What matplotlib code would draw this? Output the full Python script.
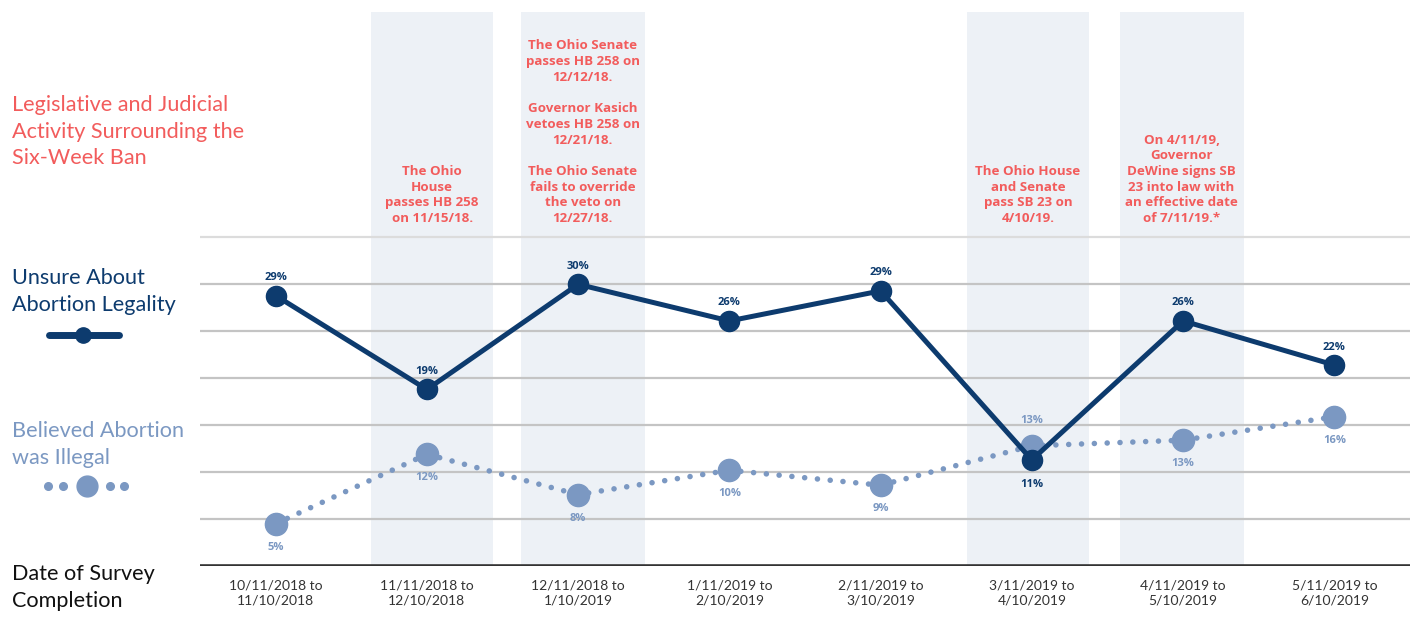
import matplotlib.pyplot as plt

# survey periods (x axis)
periods = [
    "10/11/2018 to\n11/10/2018",
    "11/11/2018 to\n12/10/2018",
    "12/11/2018 to\n1/10/2019",
    "1/11/2019 to\n2/10/2019",
    "2/11/2019 to\n3/10/2019",
    "3/11/2019 to\n4/10/2019",
    "4/11/2019 to\n5/10/2019",
    "5/11/2019 to\n6/10/2019",
]

# percentages
unsure = [28.8, 18.8, 30.0, 26.1, 29.3, 11.3, 26.1, 21.4]
unsure_labels = ["29%", "19%", "30%", "26%", "29%", "11%", "26%", "22%"]
illegal = [4.5, 11.9, 7.6, 10.2, 8.6, 12.8, 13.4, 15.9]
illegal_labels = ["5%", "12%", "8%", "10%", "9%", "13%", "13%", "16%"]

# shaded periods and their event notes
event_idx = [1, 2, 5, 6]
event_notes = [
    "The Ohio\nHouse\npasses HB 258\non 11/15/18.",
    "The Ohio Senate\npasses HB 258 on\n12/12/18.\n\nGovernor Kasich\nvetoes HB 258 on\n12/21/18.\n\nThe Ohio Senate\nfails to override\nthe veto on\n12/27/18.",
    "The Ohio House\nand Senate\npass SB 23 on\n4/10/19.",
    "On 4/11/19,\nGovernor\nDeWine signs SB\n23 into law with\nan effective date\nof 7/11/19.*",
]
band_spans = [(-0.37, 0.44), (-0.38, 0.44), (-0.43, 0.38), (-0.42, 0.40)]

DARK = "#0d3b6e"
LIGHT = "#7b98c2"
RED = "#f25c5c"
BAND = "#edf1f6"
SIDE_FONT = ["Lato", "DejaVu Sans"]

plt.rcParams["font.family"] = ["Open Sans", "DejaVu Sans"]

fig = plt.figure(figsize=(14.16, 6.17), dpi=100)
ax = fig.add_axes([200 / 1416, 1 - 566 / 617, 1210 / 1416, 554 / 617])
x = list(range(len(periods)))

for i, (lo, hi) in zip(event_idx, band_spans):
    ax.axvspan(i + lo, i + hi, color=BAND, zorder=0, lw=0)

for g in range(5, 40, 5):
    ax.axhline(g, color="#c4c4c4" if g < 35 else "#dcdcdc", lw=1.6, zorder=1)
ax.axhline(0, color="#333333", lw=2.6, zorder=2)

ax.plot(x, illegal, color=LIGHT, lw=4, linestyle=(0, (0.01, 2.3)),
        dash_capstyle="round", marker="o", ms=16, zorder=3)
ax.plot(x, unsure, color=DARK, lw=3.6, marker="o", ms=14.5, zorder=4)

for i in x:
    if i == 5:
        ax.annotate(unsure_labels[i], (i, unsure[i]), xytext=(0, -14), textcoords="offset points",
                    ha="center", va="top", fontsize=8, fontweight="bold", color=DARK)
        ax.annotate(illegal_labels[i], (i, illegal[i]), xytext=(0, 14), textcoords="offset points",
                    ha="center", va="bottom", fontsize=8, fontweight="bold", color=LIGHT)
    else:
        ax.annotate(unsure_labels[i], (i, unsure[i]), xytext=(0, 9), textcoords="offset points",
                    ha="center", va="bottom", fontsize=8, fontweight="bold", color=DARK)
        ax.annotate(illegal_labels[i], (i, illegal[i]), xytext=(0, -13), textcoords="offset points",
                    ha="center", va="top", fontsize=8, fontweight="bold", color=LIGHT)

for i, note, (lo, hi) in zip(event_idx, event_notes, band_spans):
    ax.text(i + (lo + hi) / 2, 36.3, note, ha="center", va="bottom", fontsize=9.6,
            fontweight="bold", color=RED, linespacing=1.27)

ax.set_xlim(-0.5, 7.5)
ax.set_ylim(0, 59)
ax.set_xticks(x)
ax.set_xticklabels(periods, fontsize=10, color="#333333", family=SIDE_FONT, linespacing=1.3)
ax.tick_params(axis="x", length=0, pad=10)
ax.set_yticks([])
for s in ax.spines.values():
    s.set_visible(False)

# left-hand labels
side_labels = [
    (95, "Legislative and Judicial\nActivity Surrounding the\nSix-Week Ban", RED),
    (268, "Unsure About\nAbortion Legality", DARK),
    (421, "Believed Abortion\nwas Illegal", LIGHT),
    (564, "Date of Survey\nCompletion", "#111111"),
]
for ypix, txt, col in side_labels:
    fig.text(12 / 1416, 1 - ypix / 617, txt, ha="left", va="top", fontsize=15.6,
             color=col, linespacing=1.42, family=SIDE_FONT)

# legend glyphs
leg = fig.add_axes([0, 0, 1, 1], facecolor="none")
leg.set_xlim(0, 1416)
leg.set_ylim(617, 0)
leg.axis("off")
leg.plot([49, 119], [335, 335], color=DARK, lw=5, solid_capstyle="round")
leg.plot([83], [335], "o", color=DARK, ms=11)
leg.plot([48, 63, 110, 124], [486] * 4, "o", color=LIGHT, ms=5.5)
leg.plot([87], [486], "o", color=LIGHT, ms=15)

fig.savefig("out.png", dpi=100)
